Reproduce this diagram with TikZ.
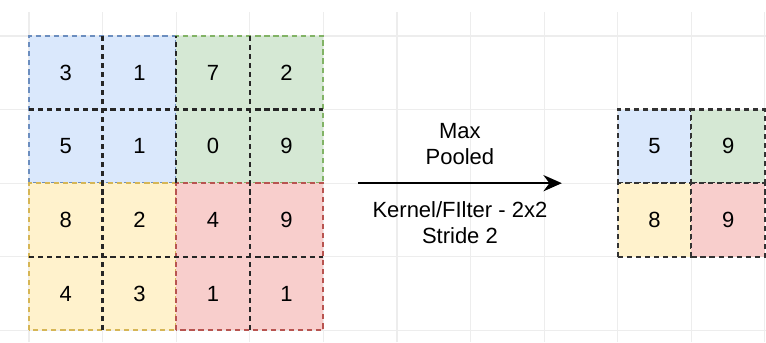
\documentclass[tikz,border=0pt]{standalone}
\usepackage{fontspec}
\setmainfont{Liberation Sans}
\usepackage{tikz}
\usetikzlibrary{arrows.meta}
\usetikzlibrary{positioning}

\definecolor{poolblue}{HTML}{DAE8FC}
\definecolor{poolblueline}{HTML}{6C8EBF}
\definecolor{poolgreen}{HTML}{D5E8D4}
\definecolor{poolgreenline}{HTML}{82B366}
\definecolor{poolyellow}{HTML}{FFF2CC}
\definecolor{poolyellowline}{HTML}{D6B656}
\definecolor{poolred}{HTML}{F8CECC}
\definecolor{poolredline}{HTML}{B85450}

\tikzset{
  cut/.style={dash pattern=on 2pt off 1.5pt, line width=0.85pt},
  gridline/.style={draw=black!7, line width=0.4pt},
  cellbox/.style={minimum size=1cm, inner sep=0pt, font=\fontsize{8.5}{10}\selectfont},
  outcell/.style={cellbox, draw=black!80, cut},
  poolnote/.style={align=center, font=\fontsize{8.5}{10}\selectfont},
  poolarrow/.style={line width=0.9pt, -{Stealth[length=2.5mm,width=2.2mm]}}
}

\begin{document}
\begin{tikzpicture}
\useasboundingbox (-0.394,-0.163) rectangle (10.014,4.489);
\fill[white] (-0.394,-0.163) rectangle (10.014,4.489);

\foreach \x in {0,...,10}
  \draw[gridline] (\x,-0.163) -- (\x,4.33);
\foreach \y in {0,...,4}
  \draw[gridline] (-0.394,\y) -- (10.014,\y);

% input blocks
\draw[cut, draw=poolblueline, fill=poolblue] (0,2) rectangle (2,4);
\draw[cut, draw=poolgreenline, fill=poolgreen] (2,2) rectangle (4,4);
\draw[cut, draw=poolyellowline, fill=poolyellow] (0,0) rectangle (2,2);
\draw[cut, draw=poolredline, fill=poolred] (2,0) rectangle (4,2);

\draw[cut, black!85] (1,0) -- (1,4);
\draw[cut, black!85] (3,0) -- (3,4);
\draw[cut, black!85] (2,2) -- (2,4);
\draw[cut, black!85] (0,1) -- (4,1);
\draw[cut, black!85] (0,3) -- (4,3);

\foreach \row/\vals in {0/{3,1,7,2},1/{5,1,0,9},2/{8,2,4,9},3/{4,3,1,1}}
  \foreach \v [count=\c] in \vals
    \node[cellbox] (in\row\c) at (\c-0.5,3.5-\row) {\v};

% pooled output
\node[outcell, fill=poolblue] (out11) at (8.5,2.5) {5};
\node[outcell, fill=poolgreen] (out12) at (9.5,2.5) {9};
\node[outcell, fill=poolyellow] (out21) at (8.5,1.5) {8};
\node[outcell, fill=poolred] (out22) at (9.5,1.5) {9};

\coordinate (pooltail) at (4.47,2);
\coordinate (poolhead) at (7.24,2);
\draw[poolarrow] (pooltail) -- node[poolnote, above=0.12cm] (maxnote) {Max\\Pooled}
  node[poolnote, below=0.12cm] (kernelnote) {Kernel/FIlter - 2x2\\Stride 2} (poolhead);
\end{tikzpicture}
\end{document}
